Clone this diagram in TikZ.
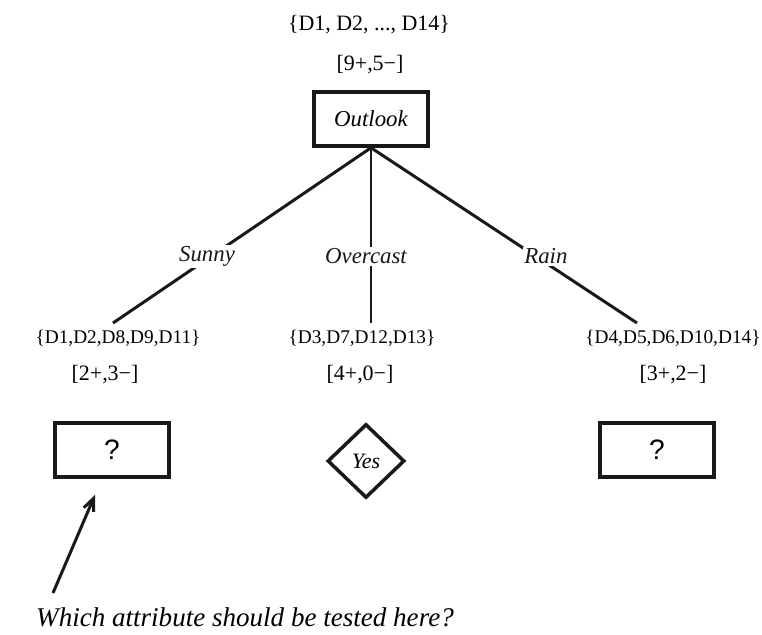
\documentclass[tikz,border=0pt]{standalone}
\usepackage{fontspec}
\setmainfont{Liberation Serif}
\newfontfamily\qmarkfont{Liberation Sans}
\usepackage{tikz}
\usetikzlibrary{arrows.meta, shapes}
\definecolor{inkblack}{RGB}{25,25,25}

\begin{document}
\begin{tikzpicture}[x=0.02cm, y=-0.02cm,
    testbox/.style={draw=inkblack, line width=2pt, minimum width=2.28cm, minimum height=1.08cm, inner sep=0pt},
    leafdiamond/.style={draw=inkblack, line width=2pt, diamond, minimum width=1.54cm, minimum height=1.48cm, inner sep=0pt},
    branch/.style={inkblack, line width=1.7pt},
    edgelabel/.style={fill=white, inner sep=1pt, font=\itshape\fontsize{13}{15}\selectfont},
    settext/.style={font=\fontsize{11}{13}\selectfont, inner sep=1pt},
    counttext/.style={font=\fontsize{12.5}{14}\selectfont, inner sep=1pt}]
        \useasboundingbox (0,0) rectangle (762,635);

        % root
        \node[counttext] (rootset) at (369,25) {\{D1, D2, ..., D14\}};
        \node[counttext] (rootcount) at (370,65) {[9+,5−]};
        \node[testbox, font=\itshape\fontsize{13}{15}\selectfont] (outlook) at (371,119) {Outlook};

        % branch ends
        \coordinate (sunnyend) at (113,323);
        \coordinate (overend) at (371,323);
        \coordinate (rainend) at (637,323);

        \draw[branch] (outlook.south) -- (sunnyend) node[edgelabel, pos=0.62, xshift=-0.08cm] {Sunny};
        \draw[branch] (outlook.south) -- (overend) node[edgelabel, pos=0.62, xshift=-0.1cm] {Overcast};
        \draw[branch] (outlook.south) -- (rainend) node[edgelabel, pos=0.62, xshift=0.2cm] {Rain};

        % Sunny
        \node[settext] (sunnyset) at (118,338) {\{D1,D2,D8,D9,D11\}};
        \node[counttext] (sunnycount) at (105,375) {[2+,3−]};
        \node[testbox, font=\qmarkfont\fontsize{16}{18}\selectfont] (sunnybox) at (112,450) {?};

        % Overcast
        \node[settext] (overset) at (362,338) {\{D3,D7,D12,D13\}};
        \node[counttext] (overcount) at (360,375) {[4+,0−]};
        \node[leafdiamond, font=\itshape\fontsize{12.5}{14}\selectfont] (overleaf) at (366,461) {Yes};

        % Rain
        \node[settext] (rainset) at (673,338) {\{D4,D5,D6,D10,D14\}};
        \node[counttext] (raincount) at (673,375) {[3+,2−]};
        \node[testbox, font=\qmarkfont\fontsize{16}{18}\selectfont] (rainbox) at (657,450) {?};

        % question
        \node[font=\itshape\fontsize{15.4}{18}\selectfont, inner sep=0pt] (question) at (245,617) {Which attribute should be tested here?};
        \coordinate (qtail) at (53,593);
        \coordinate (qtip) at (95,495);
        \draw[branch, -{Straight Barb[length=7pt, width=6pt]}] (qtail) -- (qtip);
    \end{tikzpicture}
\end{document}
